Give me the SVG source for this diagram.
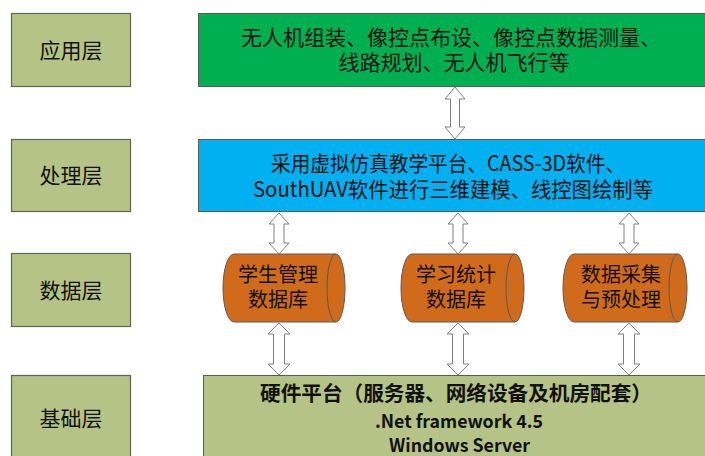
<svg xmlns="http://www.w3.org/2000/svg" width="705" height="456" viewBox="0 0 705 456">
<style>
text{font-family:"Noto Sans CJK SC","Noto Sans",sans-serif;fill:#111;text-anchor:middle}
.lbl{fill:#b5c386;stroke:#5f6358;stroke-width:1.2}
.lt{font-size:21px}
.bt{font-size:21px}
.ct{font-size:20px}
.cyl{fill:#d06b1c;stroke:#5a5a5a;stroke-width:1}
.arr{fill:#fff;stroke:#7f7f7f;stroke-width:1}
.b{font-weight:bold}
</style>
<rect width="705" height="456" fill="#fff"/>
<g id="app-label"><rect class="lbl" x="11.5" y="13.5" width="119" height="73"/><text class="lt" x="71" y="57.5">应用层</text></g>
<g id="proc-label"><rect class="lbl" x="11.5" y="139.5" width="119" height="72"/><text class="lt" x="71" y="183">处理层</text></g>
<g id="data-label"><rect class="lbl" x="11.5" y="253.5" width="119" height="73"/><text class="lt" x="71" y="297.5">数据层</text></g>
<g id="base-label"><rect class="lbl" x="11.5" y="375.5" width="119" height="88"/><text class="lt" x="71" y="425.5">基础层</text></g>
<g id="app"><rect x="198.5" y="13.5" width="512" height="73" fill="#00b050" stroke="#5a5a5a" stroke-width="1"/>
<text class="bt"><tspan x="451" y="45">无人机组装、像控点布设、像控点数据测量、</tspan><tspan x="454" y="70">线路规划、无人机飞行等</tspan></text></g>
<g id="proc"><rect x="198.5" y="139.5" width="512" height="72" fill="#00b0f0" stroke="#5a5a5a" stroke-width="1"/>
<text class="bt"><tspan x="448" y="170.5" textLength="354" lengthAdjust="spacingAndGlyphs">采用虚拟仿真教学平台、CASS-3D软件、</tspan><tspan x="453" y="196.5" textLength="400" lengthAdjust="spacingAndGlyphs">SouthUAV软件进行三维建模、线控图绘制等</tspan></text></g>
<g id="db1"><path class="cyl" d="M234 254 L336 254 A9 34 0 0 1 336 322 L234 322 A11 34 0 0 1 234 254 Z"/><path class="cyl" fill="none" d="M336 254 A9 34 0 0 0 336 322"/>
<text class="ct"><tspan x="278" y="282">学生管理</tspan><tspan x="278" y="307">数据库</tspan></text></g>
<g id="db2"><path class="cyl" d="M412 254 L515 254 A9 34 0 0 1 515 322 L412 322 A11 34 0 0 1 412 254 Z"/><path class="cyl" fill="none" d="M515 254 A9 34 0 0 0 515 322"/>
<text class="ct"><tspan x="456" y="282">学习统计</tspan><tspan x="456" y="307">数据库</tspan></text></g>
<g id="db3"><path class="cyl" d="M574 254 L678 254 A9 34 0 0 1 678 322 L574 322 A11 34 0 0 1 574 254 Z"/><path class="cyl" fill="none" d="M678 254 A9 34 0 0 0 678 322"/>
<text class="ct"><tspan x="621" y="282">数据采集</tspan><tspan x="621" y="307">与预处理</tspan></text></g>
<g id="base"><rect x="203.5" y="375.5" width="507" height="88" fill="#b5c386" stroke="#5a5a5a" stroke-width="1"/>
<text class="b"><tspan x="456" y="401" font-size="20.5" textLength="392" lengthAdjust="spacingAndGlyphs">硬件平台（服务器、网络设备及机房配套）</tspan><tspan x="459" y="428" font-size="18" textLength="168" lengthAdjust="spacingAndGlyphs">.Net framework 4.5</tspan><tspan x="459.5" y="452" font-size="18" textLength="141" lengthAdjust="spacingAndGlyphs">Windows Server</tspan></text></g>
<g id="connectors">
<polygon class="arr" points="455,87 465,99 459.5,99 459.5,127 465,127 455,139 445,127 450.5,127 450.5,99 445,99"/>
<polygon class="arr" points="279,213 289,224 284,224 284,243 289,243 279,254 269,243 274,243 274,224 269,224"/>
<polygon class="arr" points="458,213 468,224 463,224 463,243 468,243 458,254 448,243 453,243 453,224 448,224"/>
<polygon class="arr" points="629,213 639,224 634,224 634,243 639,243 629,254 619,243 624,243 624,224 619,224"/>
<polygon class="arr" points="279,323 290,334 284.5,334 284.5,364 290,364 279,375 268,364 273.5,364 273.5,334 268,334"/>
<polygon class="arr" points="458,323 469,334 463.5,334 463.5,364 469,364 458,375 447,364 452.5,364 452.5,334 447,334"/>
<polygon class="arr" points="629,323 640,334 634.5,334 634.5,364 640,364 629,375 618,364 623.5,364 623.5,334 618,334"/>
</g>
</svg>
